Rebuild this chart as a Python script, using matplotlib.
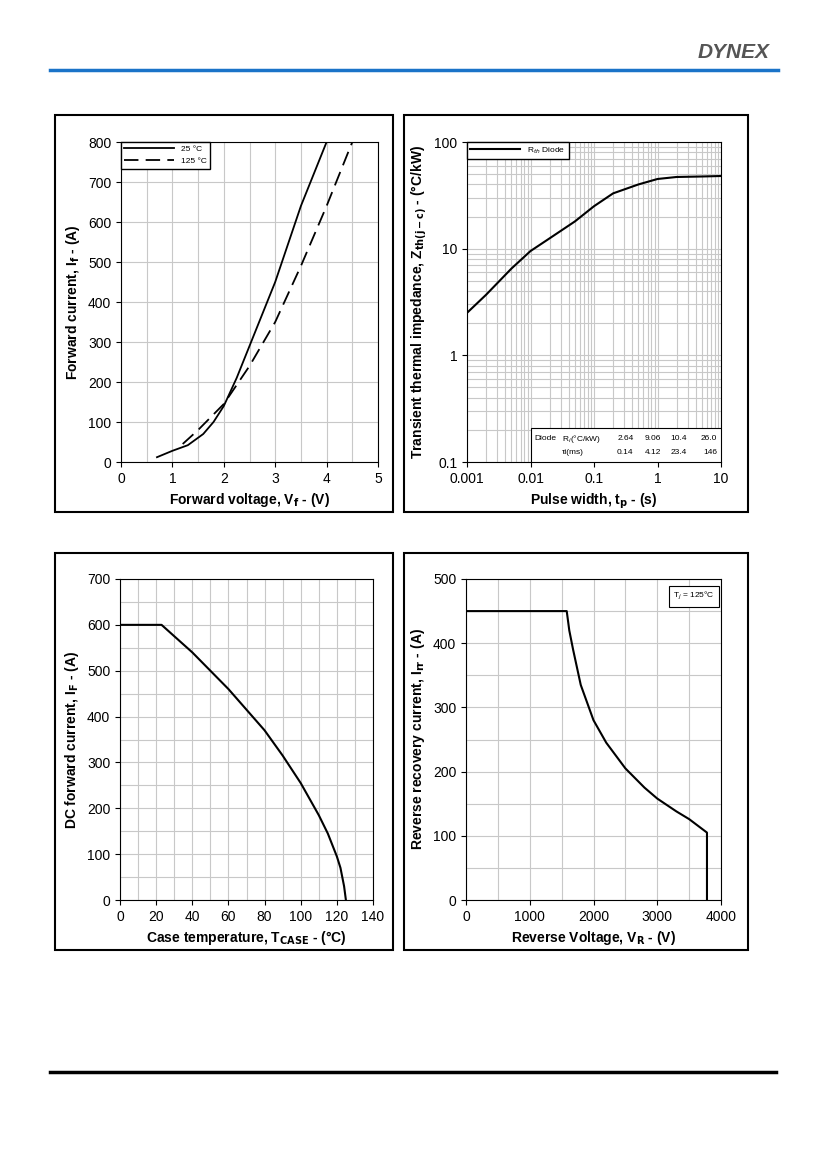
import numpy as np
import matplotlib
matplotlib.use("Agg")
import matplotlib.pyplot as plt
from matplotlib.patches import Rectangle
from matplotlib.lines import Line2D

plt.rcParams['font.family'] = ['Liberation Sans', 'DejaVu Sans']
plt.rcParams['xtick.labelsize'] = 10
plt.rcParams['ytick.labelsize'] = 10

fig = plt.figure(figsize=(8.27, 11.69), dpi=100)
H = 1169.0
W = 827.0

def fbox(x0, y0, x1, y1, **kw):
    fig.patches.append(Rectangle((x0 / W, 1 - y1 / H), (x1 - x0) / W, (y1 - y0) / H,
                                 transform=fig.transFigure, fill=False, **kw))

# header / footer
fig.add_artist(Line2D([50 / W, 778 / W], [1 - 70 / H] * 2, color='#1a73c8', lw=2.5))
fig.add_artist(Line2D([50 / W, 776 / W], [1 - 1072 / H] * 2, color='black', lw=2.5))
fig.text(770 / W, 1 - 53 / H, 'DYNEX', ha='right', va='center', fontsize=15,
         fontweight='bold', fontstyle='italic', color='#555555')

for b in [(55, 115, 393, 512), (404, 115, 748, 512), (55, 553, 393, 950), (404, 553, 748, 950)]:
    fbox(*b, color='black', lw=1.5)

def ax_at(x0, y0, x1, y1):
    return fig.add_axes([x0 / W, 1 - y1 / H, (x1 - x0) / W, (y1 - y0) / H])

grid_kw = dict(color='#c8c8c8', lw=0.8)
lab_kw = dict(fontsize=10, fontweight='bold')

# ---- forward characteristic
vf25 = [0.7, 1.0, 1.3, 1.6, 1.8, 2.0, 2.25, 2.5, 3.0, 3.5, 4.0]
if25 = [12, 28, 42, 70, 100, 140, 210, 290, 450, 640, 800]
vf125 = [1.2, 1.5, 2.0, 2.5, 3.0, 3.5, 4.0, 4.5]
if125 = [45, 80, 145, 240, 350, 490, 640, 800]

ax = ax_at(121, 142, 378, 462)
ax.plot(vf25, if25, color='black', lw=1.3, label='25 °C')
ax.plot(vf125, if125, color='black', lw=1.3, dashes=(8, 4), label='125 °C')
ax.set_xlim(0, 5)
ax.set_ylim(0, 800)
ax.set_xticks(range(6))
ax.set_xticks(np.arange(0, 5.01, 0.5), minor=True)
ax.set_yticks(range(0, 801, 100))
ax.tick_params(which='minor', length=0)
ax.grid(True, which='both', **grid_kw)
ax.set_xlabel('Forward voltage, V$_\\mathbf{f}$ - (V)', **lab_kw)
ax.set_ylabel('Forward current, I$_\\mathbf{f}$ - (A)', **lab_kw)
ax.legend(loc='upper left', fontsize=6, fancybox=False, edgecolor='black',
          borderaxespad=0, handlelength=6, framealpha=1)

# ---- transient thermal impedance
tp = [0.001, 0.002, 0.005, 0.01, 0.02, 0.05, 0.1, 0.2, 0.5, 1, 2, 5, 10]
zth = [2.5, 3.7, 6.5, 9.5, 12.5, 18, 25, 33, 40, 45, 47, 47.5, 48]
ax = ax_at(467, 142, 721, 462)
ax.plot(tp, zth, color='black', lw=1.5, label='R$_{th}$ Diode')
ax.set_xscale('log')
ax.set_yscale('log')
ax.set_xlim(0.001, 10)
ax.set_ylim(0.1, 100)
ax.set_xticks([0.001, 0.01, 0.1, 1, 10])
ax.set_xticklabels(['0.001', '0.01', '0.1', '1', '10'])
ax.set_yticks([0.1, 1, 10, 100])
ax.set_yticklabels(['0.1', '1', '10', '100'])
ax.tick_params(which='minor', length=0)
ax.grid(True, which='both', **grid_kw)
ax.set_xlabel('Pulse width, t$_\\mathbf{p}$ - (s)', **lab_kw)
ax.set_ylabel('Transient thermal impedance, Z$_\\mathbf{th(j-c)}$ - (°C/kW)', **lab_kw)
ax.legend(loc='upper left', fontsize=6, fancybox=False, edgecolor='black',
          borderaxespad=0, handlelength=6, framealpha=1)
ax.add_patch(Rectangle((0.25, 0), 0.75, 0.107, transform=ax.transAxes,
                       facecolor='white', edgecolor='black', lw=0.8, zorder=5))
rows = [['Diode', 'R$_i$(°C/kW)', '2.64', '9.06', '10.4', '26.0'],
        ['', 'τi(ms)', '0.14', '4.12', '23.4', '146']]
xs = [0.265, 0.375, 0.655, 0.765, 0.865, 0.985]
for r, y in zip(rows, [0.072, 0.03]):
    for i, (x, t) in enumerate(zip(xs, r)):
        ax.text(x, y, t, transform=ax.transAxes, fontsize=6, zorder=6,
                ha='left' if i < 2 else 'right', va='center')

# ---- DC current vs case temperature
tc = [0, 23, 40, 60, 80, 90, 100, 110, 115, 120, 122, 124, 125]
idc = [600, 600, 540, 460, 370, 315, 255, 185, 145, 95, 70, 30, 0]
ax = ax_at(120, 579, 373, 900)
ax.plot(tc, idc, color='black', lw=1.5)
ax.set_xlim(0, 140)
ax.set_ylim(0, 700)
ax.set_xticks(range(0, 141, 20))
ax.set_xticks(range(0, 141, 10), minor=True)
ax.set_yticks(range(0, 701, 100))
ax.set_yticks(range(0, 701, 50), minor=True)
ax.tick_params(which='minor', length=0)
ax.grid(True, which='both', **grid_kw)
ax.set_xlabel('Case temperature, T$_\\mathbf{CASE}$ - (°C)', **lab_kw)
ax.set_ylabel('DC forward current, I$_\\mathbf{F}$ - (A)', **lab_kw)

# ---- reverse recovery current
vr = [0, 1580, 1620, 1680, 1800, 2000, 2200, 2500, 2800, 3000, 3300, 3500, 3780, 3780]
irr = [450, 450, 420, 390, 335, 280, 245, 205, 175, 158, 138, 126, 105, 0]
ax = ax_at(466, 579, 721, 900)
ax.plot(vr, irr, color='black', lw=1.5)
ax.set_xlim(0, 4000)
ax.set_ylim(0, 500)
ax.set_xticks(range(0, 4001, 1000))
ax.set_xticks(range(0, 4001, 500), minor=True)
ax.set_yticks(range(0, 501, 100))
ax.set_yticks(range(0, 501, 50), minor=True)
ax.tick_params(which='minor', length=0)
ax.grid(True, which='both', **grid_kw)
ax.set_xlabel('Reverse Voltage, V$_\\mathbf{R}$ - (V)', **lab_kw)
ax.set_ylabel('Reverse recovery current, I$_\\mathbf{rr}$ - (A)', **lab_kw)
ax.text(0.975, 0.965, 'T$_j$ = 125°C', transform=ax.transAxes, fontsize=6,
        ha='right', va='top',
        bbox=dict(boxstyle='square,pad=0.5', facecolor='white', edgecolor='black', lw=0.8))

fig.savefig('out.png', dpi=100)
